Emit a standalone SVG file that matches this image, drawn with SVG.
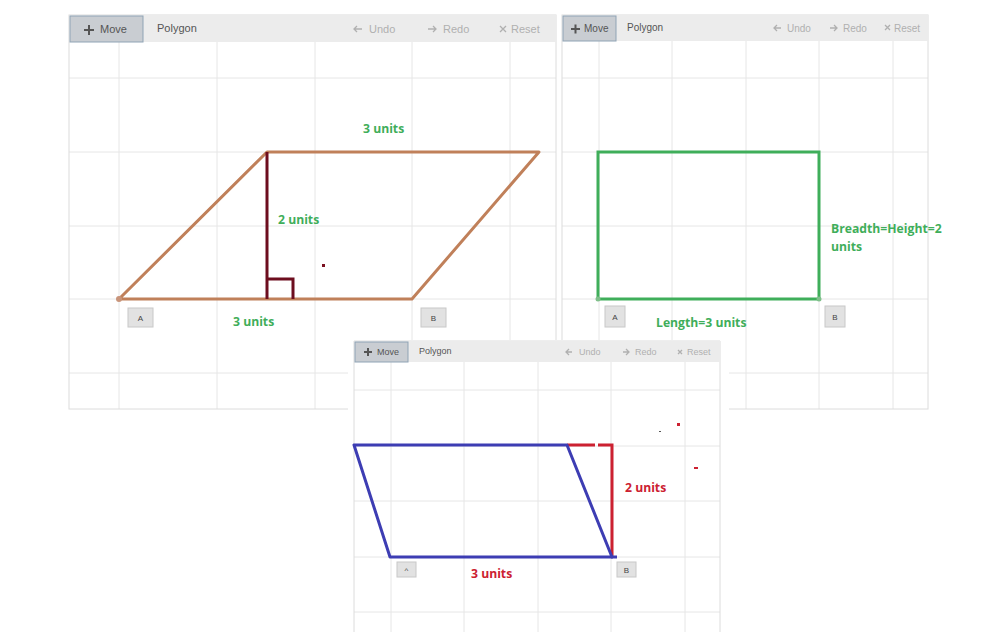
<svg xmlns="http://www.w3.org/2000/svg" width="991" height="632" viewBox="0 0 991 632">
<style>
.bg{fill:#fff}
.grid{stroke:#e6e6e6;stroke-width:1;fill:none}
.frame{stroke:#dcdcdc;stroke-width:1;fill:none}
.bar{fill:#ececec}
.btn{fill:#c9cdd2;stroke:#8fa3b5;stroke-width:1}
.tb{font-family:"Liberation Sans",Arial,sans-serif;fill:#555}
.tbd{font-family:"Liberation Sans",Arial,sans-serif;fill:#b0b0b0}
.lbl{fill:#e2e2e2;stroke:#c8c8c8;stroke-width:1}
.lt{font-family:"Liberation Sans",Arial,sans-serif;font-size:8px;fill:#444;text-anchor:middle}
.g{font-family:"Open Sans","Noto Sans",sans-serif;font-weight:bold;font-size:12.2px;fill:#3fae5a}
.r{font-family:"Open Sans","Noto Sans",sans-serif;font-weight:bold;font-size:12.2px;fill:#cc2131}
.ic{stroke:#b0b0b0;stroke-width:1.3;fill:none}
</style>

<g id="panel1">
  <rect class="bg" x="69" y="15" width="487" height="394"/>
  <g class="grid">
    <path d="M119 42V409M217 42V409M315 42V409M412 42V409M510 42V409"/>
    <path d="M69 78H556M69 152H556M69 226H556M69 299H556M69 373H556"/>
  </g>
  <rect class="frame" x="69" y="15" width="487" height="394"/>
  <rect class="bar" x="69" y="15" width="487" height="27"/>
  <rect class="btn" x="70" y="16" width="73" height="26"/>
  <path d="M84 30h10M89 25v10" stroke="#555" stroke-width="2"/>
  <text class="tb" x="100" y="33" font-size="11">Move</text>
  <text class="tb" x="157" y="32" font-size="11">Polygon</text>
  <path class="ic" d="M362 29h-8M357 26l-3 3 3 3"/>
  <text class="tbd" x="369" y="33" font-size="11">Undo</text>
  <path class="ic" d="M428 29h8M433 26l3 3-3 3"/>
  <text class="tbd" x="443" y="33" font-size="11">Redo</text>
  <path class="ic" d="M500 26l6 6M506 26l-6 6"/>
  <text class="tbd" x="511" y="33" font-size="11">Reset</text>
  <polygon points="119,299 267,152 539,152 412,299" fill="none" stroke="#c0805a" stroke-width="3" stroke-linejoin="round"/>
  <circle cx="119" cy="299" r="3" fill="#c8947a"/>
  <path d="M267 152V299M267 279H293V299" stroke="#6d0d1e" stroke-width="3" fill="none"/>
  <rect x="322" y="264" width="3" height="3" fill="#7a1020"/>
  <rect class="lbl" x="128" y="308" width="25" height="19"/>
  <text class="lt" x="140.5" y="321">A</text>
  <rect class="lbl" x="421" y="308" width="25" height="19"/>
  <text class="lt" x="433.5" y="321">B</text>
  <text class="g" x="363" y="133">3 units</text>
  <text class="g" x="278" y="224">2 units</text>
  <text class="g" x="233" y="326">3 units</text>
</g>

<g id="panel2">
  <rect class="bg" x="562" y="15" width="366" height="394"/>
  <g class="grid">
    <path d="M599 41V409M672 41V409M746 41V409M819 41V409M893 41V409"/>
    <path d="M562 78H928M562 152H928M562 226H928M562 299H928M562 373H928"/>
  </g>
  <rect class="frame" x="562" y="15" width="366" height="394"/>
  <rect class="bar" x="562" y="15" width="366" height="26"/>
  <rect class="btn" x="563" y="16" width="53" height="25"/>
  <path d="M571 29h9M575.5 24.5v9" stroke="#555" stroke-width="2"/>
  <text class="tb" x="584" y="32" font-size="10">Move</text>
  <text class="tb" x="627" y="31" font-size="10">Polygon</text>
  <path class="ic" d="M781 28h-7M777 25l-3 3 3 3"/>
  <text class="tbd" x="787" y="32" font-size="10">Undo</text>
  <path class="ic" d="M830 28h7M834 25l3 3-3 3"/>
  <text class="tbd" x="843" y="32" font-size="10">Redo</text>
  <path class="ic" d="M885 25l5 5M890 25l-5 5"/>
  <text class="tbd" x="894" y="32" font-size="10">Reset</text>
  <rect x="598" y="152" width="221" height="147" fill="none" stroke="#3fae5a" stroke-width="3"/>
  <circle cx="598" cy="299" r="2.5" fill="#7fbf8a"/>
  <circle cx="819" cy="299" r="2.5" fill="#7fbf8a"/>
  <rect class="lbl" x="605" y="306" width="20" height="21"/>
  <text class="lt" x="615" y="320">A</text>
  <rect class="lbl" x="825" y="306" width="20" height="21"/>
  <text class="lt" x="835" y="320">B</text>
  <text class="g" x="831" y="233">Breadth=Height=2</text>
  <text class="g" x="831" y="251">units</text>
  <text class="g" x="656" y="327">Length=3 units</text>
</g>

<g id="panel3">
  <rect class="bg" x="348" y="340" width="381" height="292"/>
  <g class="grid">
    <path d="M391 362V632M464 362V632M538 362V632M611 362V632M685 362V632"/>
    <path d="M354 390H720M354 446H720M354 501H720M354 557H720M354 612H720"/>
  </g>
  <path class="frame" d="M354 632V341H720V632"/>
  <rect class="bar" x="354" y="341" width="366" height="21"/>
  <rect class="btn" x="355" y="342" width="53" height="20"/>
  <path d="M364 352h8M368 348v8" stroke="#555" stroke-width="2"/>
  <text class="tb" x="377" y="355" font-size="9">Move</text>
  <text class="tb" x="419" y="354" font-size="9">Polygon</text>
  <path class="ic" d="M572 352h-6M569 349l-3 3 3 3"/>
  <text class="tbd" x="579" y="355" font-size="9">Undo</text>
  <path class="ic" d="M623 352h6M626 349l3 3-3 3"/>
  <text class="tbd" x="635" y="355" font-size="9">Redo</text>
  <path class="ic" d="M678 350l4 4M682 350l-4 4"/>
  <text class="tbd" x="687" y="355" font-size="9">Reset</text>
  <path d="M567 445H595M598 445H612V557" stroke="#cc2131" stroke-width="3" fill="none"/>
  <polygon points="354,445 567,445 612,557 390,557" fill="none" stroke="#3d3db3" stroke-width="3" stroke-linejoin="round"/>
  <path d="M611 557H617" stroke="#3d3db3" stroke-width="3"/>
  <rect x="677" y="423" width="3" height="3" fill="#cc2131"/>
  <rect x="694" y="467" width="4" height="2" fill="#cc2131"/>
  <rect x="659" y="431" width="2" height="1" fill="#555"/>
  <rect class="lbl" x="397" y="562" width="19" height="15"/>
  <text class="lt" x="406.5" y="573">^</text>
  <rect class="lbl" x="617" y="562" width="19" height="15"/>
  <text class="lt" x="626.5" y="573">B</text>
  <text class="r" x="625" y="492">2 units</text>
  <text class="r" x="471" y="578">3 units</text>
</g>
</svg>
